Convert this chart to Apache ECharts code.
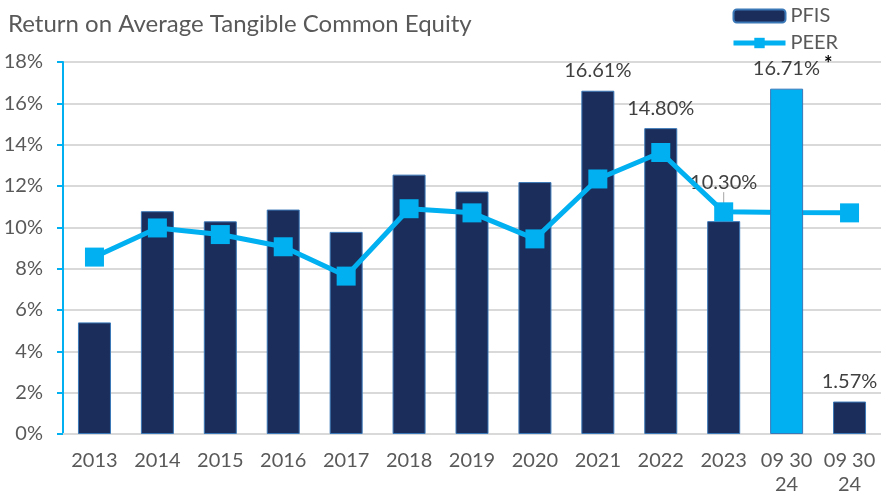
<!DOCTYPE html>
<html>
<head>
<meta charset="utf-8">
<script src="https://cdn.jsdelivr.net/npm/echarts@6/dist/echarts.min.js"></script>
<style>html,body{margin:0;padding:0;background:#fff}#c{width:881px;height:497px}</style>
</head>
<body>
<div id="c"></div>
<script>
const categories = ['2013','2014','2015','2016','2017','2018','2019','2020','2021','2022','2023','09 30\n24','09 30\n24'];
const pfisValues = [5.40, 10.78, 10.29, 10.86, 9.78, 12.55, 11.73, 12.19, 16.61, 14.80, 10.30, null, 1.57];
const peerYtdValues = [null, null, null, null, null, null, null, null, null, null, null, 16.71, null];
const peerValues = [8.56, 9.97, 9.65, 9.06, 7.64, 10.90, 10.70, 9.44, 12.34, 13.62, 10.75, 10.72, 10.70];
const labeledIdx = [8, 9, 10, 12];
const leaderIdx = 10;
const yTicks = { min: 0, max: 18, interval: 2 };

const FONT = 'Lato';
const chart = echarts.init(document.getElementById('c'), null, { renderer: 'canvas' });

const pfisData = pfisValues.map((v, i) => {
  if (v === null) return '-';
  const item = { value: v };
  if (labeledIdx.includes(i)) {
    item.label = { show: true, position: 'top', distance: 10, formatter: (p) => p.value.toFixed(2) + '%' };
    item.labelLine = { show: i === leaderIdx, lineStyle: { color: '#a6a6a6', width: 1 } };
  }
  return item;
});
const ytdData = peerYtdValues.map(v => v === null ? '-' : {
  value: v,
  label: { show: true, position: 'top', distance: 6, formatter: (p) => '{a|' + p.value.toFixed(2) + '%}{b|*}', rich: {
    a: { fontFamily: FONT, fontSize: 20, color: '#404040' },
    b: { fontFamily: FONT, fontSize: 20, fontWeight: 'bold', color: '#000', padding: [0, 0, 8, 4] }
  }, offset: [6, 0] }
});

chart.setOption({
  animation: false,
  textStyle: { fontFamily: FONT },
  title: {
    text: 'Return on Average Tangible Common Equity',
    left: 3, top: 7,
    textStyle: { fontFamily: FONT, fontSize: 24, fontWeight: 'normal', color: '#595959' }
  },
  legend: {
    data: ['PFIS', 'PEER'],
    orient: 'vertical',
    left: 731, top: 6, padding: 0,
    itemWidth: 52, itemHeight: 13, itemGap: 7, itemTextGap: 7,
    lineStyle: { width: 5 },
    textStyle: { fontFamily: FONT, fontSize: 20, color: '#595959' }
  },
  grid: { left: 63, right: -1, top: 62, bottom: 62, containLabel: false },
  xAxis: {
    type: 'category',
    data: categories,
    axisLine: { lineStyle: { color: '#d9d9d9', width: 2 } },
    axisTick: { show: false },
    axisLabel: { fontFamily: FONT, fontSize: 20, color: '#595959', margin: 15, lineHeight: 24, interval: 0 }
  },
  yAxis: {
    type: 'value',
    min: yTicks.min, max: yTicks.max, interval: yTicks.interval,
    axisLine: { show: true, lineStyle: { color: '#00b0f0', width: 2 } },
    axisTick: { show: true, length: 6, lineStyle: { color: '#00b0f0', width: 2 } },
    axisLabel: { fontFamily: FONT, fontSize: 20, color: '#595959', margin: 20, formatter: '{value}%' },
    splitLine: { lineStyle: { color: '#d9d9d9', width: 2 } }
  },
  series: [
    {
      name: 'PFIS', type: 'bar', data: pfisData, barWidth: 33, barGap: '-100%', z: 2,
      itemStyle: { color: '#1b2d5a', borderColor: '#3b78b8', borderWidth: 1 },
      label: { fontFamily: FONT, fontSize: 20, color: '#404040' },
      labelLine: { show: false },
      labelLayout: (p) => p.dataIndex === leaderIdx ? { dy: -19 } : {}
    },
    {
      name: 'PEER', type: 'line', data: peerValues, z: 3,
      symbol: 'rect', symbolSize: 19,
      lineStyle: { color: '#00b0f0', width: 5 },
      itemStyle: { color: '#00b0f0' }
    },
    {
      name: 'PEER YTD', type: 'bar', data: ytdData, barWidth: 33, barGap: '-100%', z: 4,
      itemStyle: { color: '#00b0f0', borderColor: '#3b78b8', borderWidth: 1 }
    }
  ]
});
</script>
</body>
</html>
